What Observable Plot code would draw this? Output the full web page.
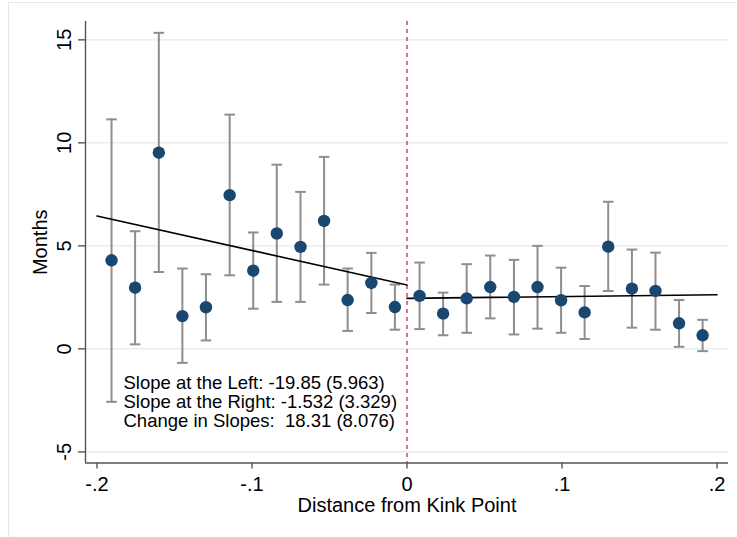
<!DOCTYPE html>
<html>
<head>
<meta charset="utf-8">
<script src="https://cdn.jsdelivr.net/npm/d3@7"></script>
<script src="https://cdn.jsdelivr.net/npm/@observablehq/plot@0.6"></script>
<style>
  html, body { margin: 0; padding: 0; background: #fff; }
  #wrap { position: relative; width: 737px; height: 537px; overflow: hidden; }
  #outer { position: absolute; left: 8px; top: 2px; width: 760px; height: 560px; border: 1px solid #e4eaec; }
  #chart { position: absolute; left: 0; top: 0; }
  svg text { white-space: pre; }
</style>
</head>
<body>
<div id="wrap"><div id="outer"></div><div id="chart"></div></div>
<script>
// Bin centres (distance from kink point)
const binX = [-0.1906, -0.1754, -0.1601, -0.1449, -0.1297, -0.1144, -0.0992, -0.0840, -0.0687, -0.0535, -0.0383, -0.0230, -0.0078,
              0.0081, 0.0233, 0.0385, 0.0537, 0.0690, 0.0842, 0.0994, 0.1146, 0.1298, 0.1451, 0.1603, 0.1755, 0.1907];
// Mean months per bin
const months = [4.30, 2.97, 9.52, 1.59, 2.02, 7.46, 3.80, 5.60, 4.95, 6.21, 2.37, 3.20, 2.03,
                2.57, 1.71, 2.45, 3.00, 2.52, 3.00, 2.36, 1.77, 4.96, 2.92, 2.81, 1.24, 0.66];
// Confidence interval bounds
const ciHigh = [11.14, 5.71, 15.34, 3.90, 3.62, 11.37, 5.65, 8.94, 7.62, 9.32, 3.90, 4.66, 3.12,
                4.19, 2.73, 4.11, 4.53, 4.32, 5.00, 3.94, 3.05, 7.14, 4.82, 4.67, 2.37, 1.41];
const ciLow = [-2.57, 0.22, 3.73, -0.68, 0.41, 3.57, 1.95, 2.28, 2.28, 3.12, 0.87, 1.74, 0.93,
               0.96, 0.66, 0.78, 1.48, 0.70, 0.98, 0.78, 0.48, 2.81, 1.03, 0.93, 0.10, -0.11];
// Fitted lines
const fitLeftX = [-0.2, 0];
const fitLeftY = [6.45, 3.10];
const fitRightX = [0, 0.2];
const fitRightY = [2.45, 2.63];
// Ticks
const xTicks = [-0.2, -0.1, 0, 0.1, 0.2];
const xTickLabels = ["-.2", "-.1", "0", ".1", ".2"];
const yTicks = [-5, 0, 5, 10, 15];
const yTickLabels = ["-5", "0", "5", "10", "15"];
const annotation = "Slope at the Left: -19.85 (5.963)\nSlope at the Right: -1.532 (3.329)\nChange in Slopes:  18.31 (8.076)";
const xTitle = "Distance from Kink Point";
const yTitle = "Months";

const bins = binX.map((x, i) => ({x, months: months[i], hi: ciHigh[i], lo: ciLow[i]}));
const fitLeft = fitLeftX.map((x, i) => ({x, y: fitLeftY[i]}));
const fitRight = fitRightX.map((x, i) => ({x, y: fitRightY[i]}));
const yTickData = yTicks.map((v, i) => ({v, label: yTickLabels[i]}));

const xDomain = [-0.2074, 0.2074];
const yDomain = [-5.54, 15.89];

const cap = {
  draw(ctx, size) {
    const r = Math.sqrt(size / Math.PI);
    ctx.moveTo(-r, 0);
    ctx.lineTo(r, 0);
  }
};

const axisColor = "#555";
const barColor = "#8e8e8e";

const chart = Plot.plot({
  width: 737,
  height: 537,
  marginLeft: 85,
  marginRight: 9,
  marginTop: 21,
  marginBottom: 74.5,
  x: {domain: xDomain},
  y: {domain: yDomain},
  style: {fontFamily: "'Liberation Sans', Arial, Helvetica, sans-serif", fontSize: "20px", background: "transparent", color: "#000"},
  marks: [
    Plot.gridY(yTicks, {stroke: "#e6eef0", strokeOpacity: 1, strokeWidth: 1.5}),
    Plot.ruleX([0], {stroke: "#dc5f86", strokeWidth: 1.8, strokeDasharray: "4,4"}),
    Plot.ruleX(bins, {x: "x", y1: "lo", y2: "hi", stroke: barColor, strokeWidth: 2}),
    Plot.dot(bins, {x: "x", y: "hi", symbol: cap, r: 5.3, stroke: barColor, strokeWidth: 2, fill: "none"}),
    Plot.dot(bins, {x: "x", y: "lo", symbol: cap, r: 5.3, stroke: barColor, strokeWidth: 2, fill: "none"}),
    Plot.line(fitLeft, {x: "x", y: "y", stroke: "#000", strokeWidth: 1.6}),
    Plot.line(fitRight, {x: "x", y: "y", stroke: "#000", strokeWidth: 1.6}),
    Plot.dot(bins, {x: "x", y: "months", r: 6.2, fill: "#1a476f", stroke: "none"}),
    Plot.ruleX([xDomain[0]], {stroke: axisColor, strokeWidth: 1.4}),
    Plot.ruleY([yDomain[0]], {stroke: axisColor, strokeWidth: 1.4}),
    Plot.axisX(xTicks, {tickSize: 6, tickPadding: 8, stroke: axisColor, strokeWidth: 1.4, fill: "#000",
      tickFormat: d => xTickLabels[xTicks.indexOf(d)], label: null, fontSize: 20}),
    Plot.axisY(yTicks, {tickSize: 7, stroke: axisColor, strokeWidth: 1.4, tickFormat: () => "", label: null}),
    Plot.text(yTickData, {y: "v", text: "label", frameAnchor: "left", rotate: -90, textAnchor: "middle",
      lineAnchor: "bottom", dx: -15, fontSize: 20, fill: "#000"}),
    Plot.text([yTitle], {text: d => d, frameAnchor: "left", rotate: -90, textAnchor: "middle",
      lineAnchor: "bottom", dx: -39, fontSize: 20, fill: "#000"}),
    Plot.text([xTitle], {text: d => d, frameAnchor: "bottom", textAnchor: "middle",
      lineAnchor: "bottom", dy: 48.5, fontSize: 20, fill: "#000"}),
    Plot.text([annotation], {text: d => d, frameAnchor: "bottom-left", textAnchor: "start",
      lineAnchor: "top", dx: 38, dy: -87.3, fontSize: 18.5, lineHeight: 1.03, fill: "#000"})
  ]
});
document.getElementById("chart").appendChild(chart);
</script>
</body>
</html>
